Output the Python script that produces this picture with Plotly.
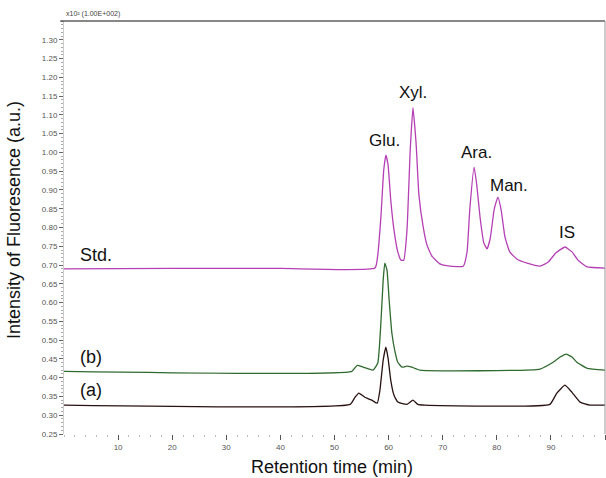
import plotly.graph_objects as go

# Retention time (min) and intensity values
std_t = [0, 20, 40, 57.5, 58.0, 58.6, 59.1, 59.5, 59.9, 60.4, 61.0, 61.7, 62.3, 62.8, 63.4, 64.0, 64.5,
         65.1, 65.6, 66.4, 67.1, 68.0, 69.5, 71.3, 73.8, 74.5, 75.0, 75.8, 76.3, 76.9, 77.6,
         78.2, 78.8, 79.5, 80.2, 80.8, 81.5, 82.4, 83.7, 85.6, 88.0, 89.5, 90.9, 92.6, 93.9,
         95.0, 96.7, 100]
std_v = [0.690, 0.691, 0.691, 0.692, 0.727, 0.833, 0.953, 0.993, 0.967, 0.873, 0.793, 0.735, 0.713, 0.713,
         0.793, 1.007, 1.119, 1.020, 0.887, 0.801, 0.753, 0.724, 0.703, 0.697, 0.697, 0.735,
         0.847, 0.961, 0.913, 0.828, 0.759, 0.743, 0.772, 0.847, 0.881, 0.847, 0.775, 0.735,
         0.716, 0.705, 0.697, 0.708, 0.732, 0.748, 0.735, 0.713, 0.695, 0.692]

b_t = [0, 53.2, 54.2, 55.3, 57.1, 58.0, 58.6, 59.0, 59.3, 59.7, 60.1, 60.6, 61.2, 61.7, 62.5,
       63.4, 64.3, 65.8, 88.0, 90.4, 91.7, 92.8, 93.9, 94.8, 96.7, 100]
b_v = [0.417, 0.417, 0.433, 0.428, 0.420, 0.439, 0.553, 0.660, 0.705, 0.687, 0.607, 0.519,
       0.468, 0.441, 0.428, 0.431, 0.428, 0.420, 0.423, 0.441, 0.455, 0.463, 0.455, 0.441,
       0.425, 0.420]

a_t = [0, 52.9, 53.8, 54.5, 55.6, 56.9, 57.9, 58.4, 59.0, 59.5, 59.9, 60.4, 61.0, 61.7, 63.4,
       64.5, 65.4, 66.7, 89.8, 91.1, 92.6, 93.9, 95.4, 97.2, 100]
a_v = [0.327, 0.329, 0.348, 0.359, 0.348, 0.340, 0.332, 0.367, 0.447, 0.481, 0.452, 0.393,
       0.353, 0.335, 0.329, 0.340, 0.329, 0.327, 0.329, 0.359, 0.380, 0.361, 0.335, 0.327,
       0.327]

peak_names = ["Glu.", "Xyl.", "Ara.", "Man.", "IS"]
peak_label_t = [59.3, 64.5, 76.2, 82.3, 93.0]
peak_label_v = [1.031, 1.159, 1.001, 0.913, 0.788]

trace_names = ["Std.", "(b)", "(a)"]
trace_label_v = [0.727, 0.455, 0.367]

x_ticks = [10, 20, 30, 40, 50, 60, 70, 80, 90, 100]
y_ticks = [round(0.25 + 0.05 * i, 2) for i in range(22)]

FONT = "Liberation Sans, Arial, sans-serif"

fig = go.Figure()
fig.add_trace(go.Scatter(x=std_t, y=std_v, mode="lines", name="Std.",
                         line=dict(color="#b540b5", width=1.3, shape="spline", smoothing=0.4)))
fig.add_trace(go.Scatter(x=b_t, y=b_v, mode="lines", name="(b)",
                         line=dict(color="#2f6a2f", width=1.3, shape="spline", smoothing=0.4)))
fig.add_trace(go.Scatter(x=a_t, y=a_v, mode="lines", name="(a)",
                         line=dict(color="#2a1212", width=1.3, shape="spline", smoothing=0.4)))

for name, t, v in zip(peak_names, peak_label_t, peak_label_v):
    fig.add_annotation(x=t, y=v, xref="x", yref="y", text=name, showarrow=False,
                       font=dict(family=FONT, size=17, color="#111"),
                       xanchor="center", yanchor="middle")

for name, v in zip(trace_names, trace_label_v):
    fig.add_annotation(x=2.6, y=v, xref="x", yref="y", text=name, showarrow=False,
                       font=dict(family=FONT, size=18, color="#111"),
                       xanchor="left", yanchor="middle")

# axis titles
fig.add_annotation(x=0.5, y=0, xref="paper", yref="paper", text="Retention time (min)",
                   showarrow=False, font=dict(family=FONT, size=18, color="#111"),
                   xanchor="center", yanchor="middle", yshift=-33, xshift=-3)
fig.add_annotation(x=0, y=0.518, xref="paper", yref="paper", text="Intensity of Fluoresence (a.u.)",
                   showarrow=False, textangle=-90, font=dict(family=FONT, size=18, color="#111"),
                   xanchor="center", yanchor="middle", xshift=-50)

# small header text above the frame
fig.add_annotation(x=0.0, y=1.0, xref="paper", yref="paper", text="x10² (1.00E+002)",
                   showarrow=False, font=dict(family=FONT, size=7, color="#444"),
                   xanchor="left", yanchor="bottom", yshift=1)

# top and right frame lines
fig.add_shape(type="line", xref="paper", yref="paper", x0=-0.007, x1=1, y0=1, y1=1,
              line=dict(color="#111", width=1))
fig.add_shape(type="line", xref="paper", yref="paper", x0=1, x1=1, y0=0, y1=1,
              line=dict(color="#999", width=1))

fig.update_layout(
    width=606, height=478,
    margin=dict(l=64, r=1, t=21, b=44),
    paper_bgcolor="white", plot_bgcolor="white",
    showlegend=False,
    font=dict(family=FONT, color="#111"),
    xaxis=dict(range=[0, 100], tickvals=x_ticks, ticktext=[str(v) for v in x_ticks],
               automargin=False,
               showgrid=False, zeroline=False, showline=False,
               ticks="outside", ticklen=5, tickcolor="#555", tickwidth=1,
               tickfont=dict(size=8, color="#555", family=FONT),
               minor=dict(dtick=2, ticks="outside", ticklen=2, tickcolor="#bbb")),
    yaxis=dict(range=[0.25, 1.35], tickvals=y_ticks, ticktext=[f"{v:.2f}" for v in y_ticks],
               automargin=False,
               showgrid=False, zeroline=False, showline=True, linecolor="#ccc", linewidth=1,
               ticks="outside", ticklen=4, tickcolor="#666", tickwidth=1,
               tickfont=dict(size=8, color="#555", family=FONT),
               minor=dict(dtick=0.01, ticks="outside", ticklen=2, tickcolor="#aaa")),
)

fig.write_html("out.html", config={"displayModeBar": False},
               post_script="document.body.style.margin='0';document.body.style.overflow='hidden';")
